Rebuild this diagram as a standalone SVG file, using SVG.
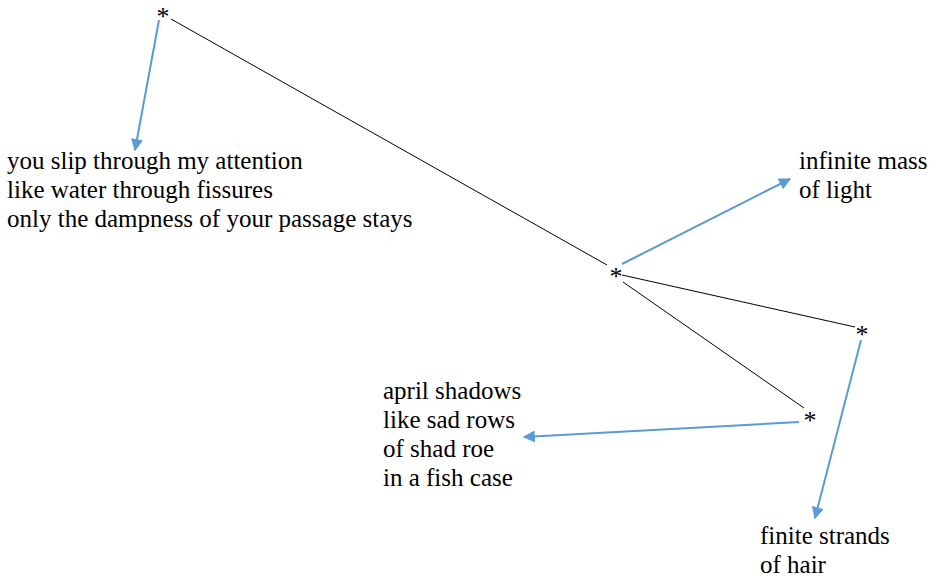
<svg xmlns="http://www.w3.org/2000/svg" width="937" height="582" viewBox="0 0 937 582" font-family="'Liberation Serif', 'Times New Roman', Times, 'DejaVu Serif', serif">
  <style>
    text { font-size: 25px; fill: #000; }
    .star { font-size: 26px; text-anchor: middle; }
    .link { stroke: #000; stroke-width: 1; fill: none; }
    .arrow { stroke: #5B9BD5; stroke-width: 2; fill: none; marker-end: url(#head); }
  </style>
  <defs>
    <marker id="head" viewBox="0 0 10 10" refX="9" refY="5" markerWidth="6.5" markerHeight="6" orient="auto" markerUnits="strokeWidth">
      <path d="M0,0 L10,5 L0,10 Z" fill="#5B9BD5"/>
    </marker>
  </defs>

  <rect width="937" height="582" fill="#fff"/>

  <!-- black links between the asterisks, blue arrows out to the verses -->
  <g id="connectors">
    <line class="link" x1="171" y1="19" x2="607" y2="265"/>
    <line class="link" x1="622" y1="275" x2="855" y2="327"/>
    <line class="link" x1="623" y1="282" x2="804" y2="408"/>
    <line class="arrow" x1="159" y1="20" x2="135" y2="150"/>
    <line class="arrow" x1="622" y1="264" x2="790" y2="179"/>
    <line class="arrow" x1="799" y1="422" x2="524" y2="437"/>
    <line class="arrow" x1="861" y1="340" x2="815" y2="518"/>
  </g>

  <g id="star-top"><text class="star" x="163" y="25">*</text></g>
  <g id="star-center"><text class="star" x="616" y="285">*</text></g>
  <g id="star-right"><text class="star" x="862" y="343">*</text></g>
  <g id="star-lower"><text class="star" x="810" y="429">*</text></g>

  <g id="verse-attention">
    <text x="7" y="169">you slip through my attention</text>
    <text x="7" y="198">like water through fissures</text>
    <text x="7" y="227">only the dampness of your passage stays</text>
  </g>
  <g id="verse-light">
    <text x="799" y="169">infinite mass</text>
    <text x="799" y="198">of light</text>
  </g>
  <g id="verse-shadows">
    <text x="383" y="399">april shadows</text>
    <text x="383" y="428">like sad rows</text>
    <text x="383" y="457">of shad roe</text>
    <text x="383" y="486">in a fish case</text>
  </g>
  <g id="verse-hair">
    <text x="760" y="544">finite strands</text>
    <text x="760" y="573">of hair</text>
  </g>
</svg>
